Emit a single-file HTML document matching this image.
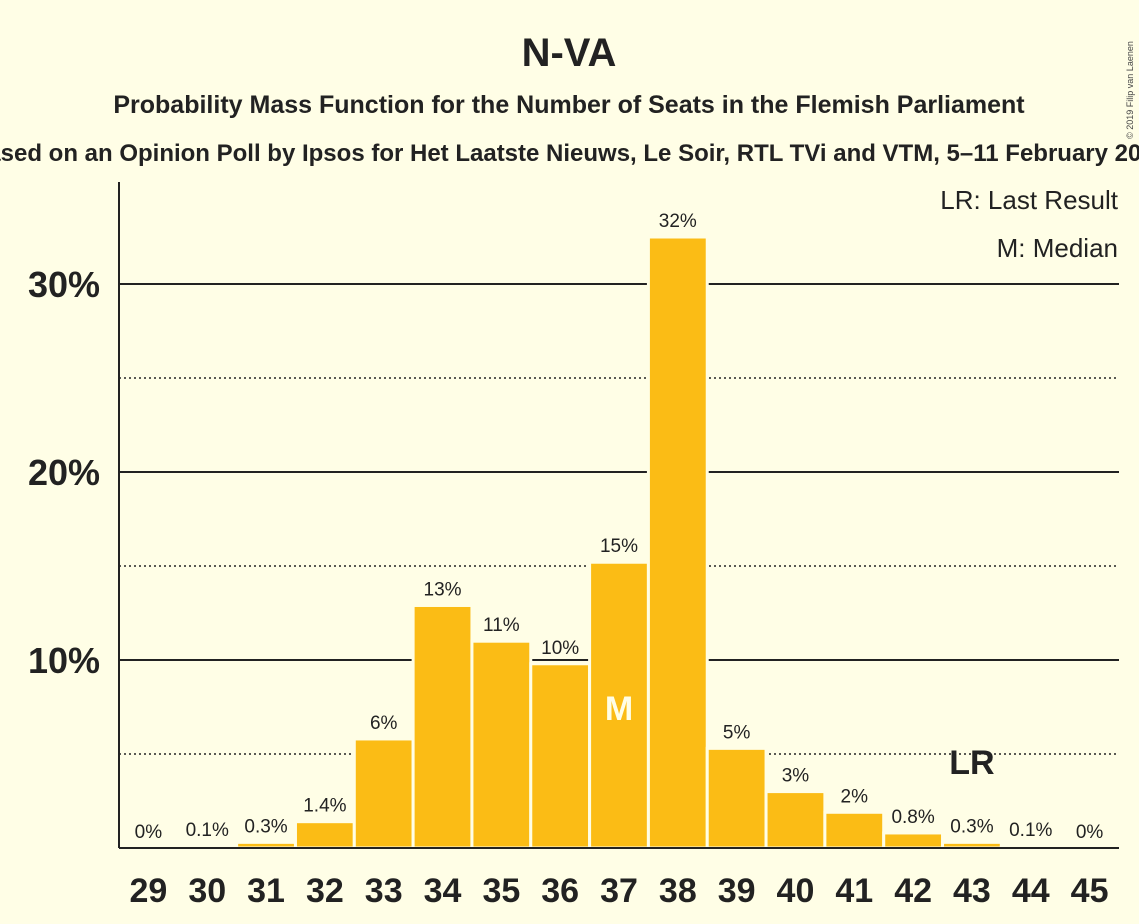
<!DOCTYPE html>
<html><head><meta charset="utf-8"><style>
body{margin:0;background:#FFFEE6;}
svg{display:block;font-family:"Liberation Sans",sans-serif;}
</style></head><body>
<svg id="chart" width="1139" height="924" viewBox="0 0 1139 924">
<rect width="1139" height="924" fill="#FFFEE6"/>
<text x="569" y="66" text-anchor="middle" font-size="40" font-weight="bold" fill="#222">N-VA</text>
<text x="569" y="113" text-anchor="middle" font-size="25" font-weight="bold" fill="#222">Probability Mass Function for the Number of Seats in the Flemish Parliament</text>
<text x="569" y="161" text-anchor="middle" font-size="24" font-weight="bold" fill="#222">Based on an Opinion Poll by Ipsos for Het Laatste Nieuws, Le Soir, RTL TVi and VTM, 5–11 February 2019</text>
<text x="1133" y="90" font-size="9" fill="#444" transform="rotate(-90 1133 90)" text-anchor="middle">© 2019 Filip van Laenen</text>
<g id="grid"></g>
<g id="bars"></g>
<g id="labels"></g>
<line x1="119" y1="182" x2="119" y2="848" stroke="#222" stroke-width="2"/>
<line x1="119" y1="848" x2="1119" y2="848" stroke="#222" stroke-width="2"/>
<text x="1118" y="209" text-anchor="end" font-size="26" fill="#222">LR: Last Result</text>
<text x="1118" y="257" text-anchor="end" font-size="26" fill="#222">M: Median</text>
</svg>
<script>
const seats=[29,30,31,32,33,34,35,36,37,38,39,40,41,42,43,44,45];
const probs=[0,0.1,0.3,1.4,5.8,12.9,11.0,9.8,15.2,32.5,5.3,3.0,1.9,0.8,0.3,0.1,0];
const probLabels=["0%","0.1%","0.3%","1.4%","6%","13%","11%","10%","15%","32%","5%","3%","2%","0.8%","0.3%","0.1%","0%"];
const yTicks=[10,20,30];
const yMinorTicks=[5,15,25];
const medianSeat=37;
const lastResultSeat=43;
const NS="http://www.w3.org/2000/svg";
const x0=119,x1=1119,yBase=848,pxPerPct=18.8;
const step=(x1-x0)/seats.length;
function xc(i){return x0+step*(i+0.5);}
function yv(v){return yBase-v*pxPerPct;}
function mk(tag,attrs,parent){const e=document.createElementNS(NS,tag);for(const k in attrs)e.setAttribute(k,attrs[k]);parent.appendChild(e);return e;}
const grid=document.getElementById('grid'),bars=document.getElementById('bars'),labels=document.getElementById('labels');
yMinorTicks.forEach(t=>{
  const l=mk('line',{x1:x0,x2:x1,y1:yv(t),y2:yv(t),stroke:'#222','stroke-width':1.5,'stroke-dasharray':'2,3'},grid);
  
  
});
yTicks.forEach(t=>{
  const l=mk('line',{x1:x0,x2:x1,y1:yv(t),y2:yv(t),stroke:'#222','stroke-width':2},grid);
  
  
  const tx=mk('text',{x:100,y:yv(t)+13,'text-anchor':'end','font-size':36,'font-weight':'bold',fill:'#222'},labels);
  tx.textContent=t+'%';
  
  
});
seats.forEach((s,i)=>{
  const v=probs[i];
  if(v>0){
    const r=mk('rect',{x:xc(i)-step/2,y:yv(v),width:step,height:v*pxPerPct,fill:'#FBBC15',stroke:'#FFFEE6','stroke-width':3},bars);
    
    
  }
  const lab=mk('text',{x:xc(i),y:yv(v)-10,'text-anchor':'middle','font-size':19,fill:'#222'},labels);
  lab.textContent=probLabels[i];
  
  
  const xt=mk('text',{x:xc(i),y:902,'text-anchor':'middle','font-size':34,'font-weight':'bold',fill:'#222'},labels);
  xt.textContent=s;
  
  
  if(s===medianSeat){
    const m=mk('text',{x:xc(i),y:720,'text-anchor':'middle','font-size':34,'font-weight':'bold',fill:'#FFFEE6'},labels);
    m.textContent='M';
    
    
  }
  if(s===lastResultSeat){
    const m=mk('text',{x:xc(i),y:774,'text-anchor':'middle','font-size':34,'font-weight':'bold',fill:'#222'},labels);
    m.textContent='LR';
    
    
  }
});
</script>
</body></html>
